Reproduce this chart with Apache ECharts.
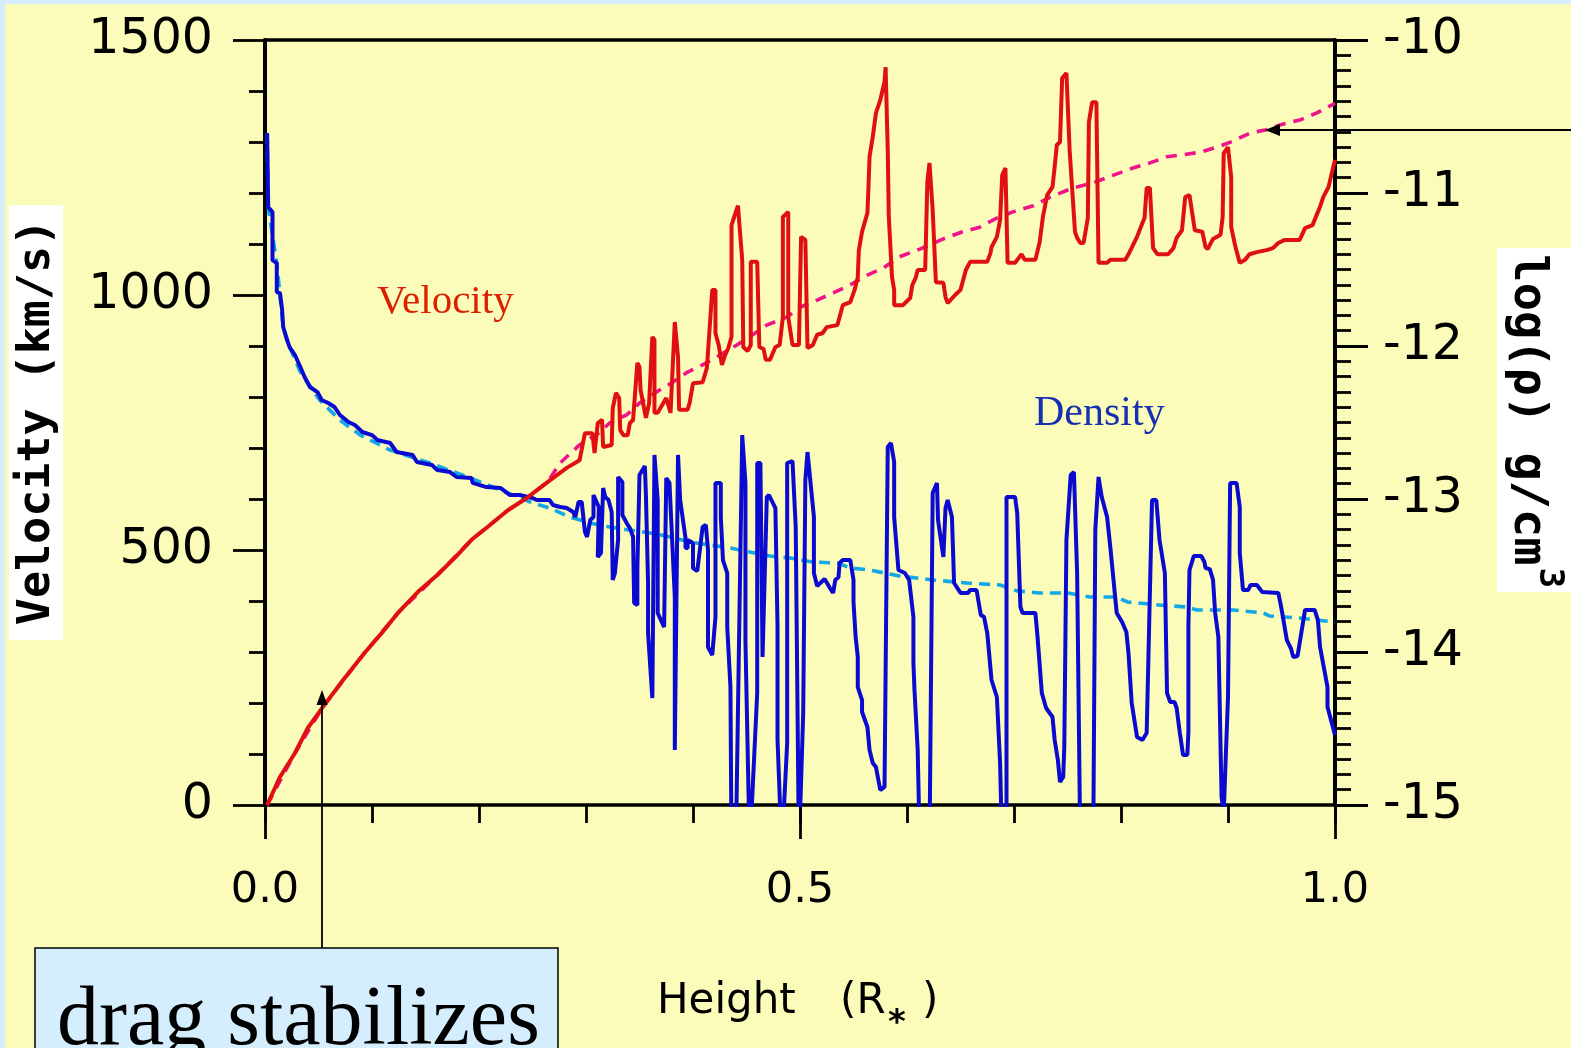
<!DOCTYPE html>
<html>
<head>
<meta charset="utf-8">
<script src="https://cdn.jsdelivr.net/npm/echarts@6/dist/echarts.min.js"></script>
<style>
html,body{margin:0;padding:0;background:#FCFCBA;}
#c{position:absolute;left:0;top:0;width:1571px;height:1048px;}
</style>
</head>
<body>
<div id="c"></div>
<script>
// ---- tick labels ----
const xTickLabels = ['0.0', '0.5', '1.0'];

// ---- Velocity (km/s) vs Height (R*) : solid red ----
const velocityData = [[0.002,0],[0.014,55],[0.028,102],[0.040,151],[0.054,192],[0.073,245],[0.093,298],[0.109,337],[0.124,376],[0.143,418],[0.161,451],[0.178,486],[0.193,520],[0.208,545],[0.227,578],[0.246,604],[0.264,633],[0.282,661],[0.294,676],[0.299,729],[0.306,729],[0.308,690],[0.311,749],[0.315,755],[0.316,702],[0.324,706],[0.325,778],[0.328,808],[0.331,798],[0.332,735],[0.335,725],[0.339,725],[0.341,749],[0.344,755],[0.348,867],[0.350,859],[0.351,814],[0.356,759],[0.359,788],[0.362,918],[0.364,912],[0.364,769],[0.367,769],[0.375,798],[0.379,769],[0.383,947],[0.386,878],[0.387,775],[0.395,775],[0.397,790],[0.400,827],[0.409,829],[0.413,857],[0.418,1010],[0.421,1010],[0.421,925],[0.424,902],[0.427,863],[0.428,863],[0.430,882],[0.433,896],[0.436,918],[0.436,1137],[0.442,1175],[0.446,1069],[0.447,898],[0.451,890],[0.454,902],[0.454,1065],[0.460,1065],[0.462,898],[0.466,894],[0.468,873],[0.472,873],[0.477,898],[0.481,902],[0.484,957],[0.484,1153],[0.489,1163],[0.489,957],[0.493,902],[0.499,902],[0.501,1114],[0.505,1108],[0.507,896],[0.512,902],[0.516,922],[0.521,925],[0.525,937],[0.535,941],[0.537,957],[0.540,980],[0.547,986],[0.551,1010],[0.554,1035],[0.555,1088],[0.558,1124],[0.563,1161],[0.564,1212],[0.565,1271],[0.568,1310],[0.571,1357],[0.575,1382],[0.579,1418],[0.580,1447],[0.582,1284],[0.583,1153],[0.586,1035],[0.588,1010],[0.588,980],[0.596,980],[0.603,994],[0.605,1020],[0.608,1033],[0.610,1049],[0.617,1049],[0.619,1222],[0.621,1259],[0.624,1167],[0.627,1025],[0.634,1024],[0.636,996],[0.638,984],[0.645,1000],[0.650,1010],[0.655,1049],[0.659,1065],[0.675,1065],[0.678,1082],[0.679,1094],[0.684,1114],[0.687,1147],[0.689,1235],[0.692,1249],[0.694,1063],[0.701,1063],[0.707,1080],[0.710,1069],[0.720,1069],[0.724,1104],[0.727,1153],[0.731,1196],[0.736,1212],[0.738,1251],[0.740,1294],[0.743,1300],[0.745,1425],[0.749,1435],[0.752,1284],[0.757,1124],[0.759,1112],[0.762,1102],[0.765,1102],[0.769,1151],[0.770,1339],[0.773,1378],[0.777,1378],[0.779,1063],[0.787,1063],[0.790,1069],[0.804,1069],[0.808,1084],[0.815,1114],[0.820,1141],[0.822,1151],[0.824,1210],[0.827,1210],[0.830,1092],[0.834,1080],[0.844,1080],[0.849,1092],[0.852,1112],[0.857,1127],[0.860,1192],[0.864,1196],[0.869,1127],[0.876,1124],[0.879,1094],[0.881,1090],[0.886,1110],[0.893,1118],[0.895,1153],[0.896,1278],[0.900,1290],[0.903,1231],[0.903,1133],[0.907,1094],[0.911,1063],[0.916,1069],[0.920,1080],[0.927,1084],[0.936,1088],[0.942,1092],[0.947,1102],[0.953,1108],[0.967,1108],[0.972,1131],[0.979,1137],[0.986,1173],[0.989,1192],[0.994,1212],[0.997,1239],[1.000,1265]];

// ---- mean velocity : dashed magenta ----
const velocityMeanData = [[0.002,0],[0.028,102],[0.054,192],[0.093,298],[0.124,376],[0.161,451],[0.193,520],[0.227,578],[0.246,604],[0.264,633],[0.276,671],[0.294,706],[0.313,731],[0.322,749],[0.338,765],[0.350,788],[0.366,810],[0.381,829],[0.395,849],[0.409,863],[0.425,882],[0.441,902],[0.453,918],[0.469,941],[0.488,957],[0.500,976],[0.516,990],[0.531,1004],[0.547,1020],[0.563,1039],[0.578,1053],[0.593,1075],[0.612,1090],[0.634,1110],[0.652,1124],[0.668,1133],[0.684,1151],[0.699,1163],[0.718,1175],[0.734,1192],[0.755,1210],[0.774,1220],[0.793,1235],[0.811,1249],[0.827,1259],[0.843,1271],[0.858,1275],[0.874,1280],[0.890,1290],[0.905,1302],[0.921,1318],[0.936,1324],[0.951,1335],[0.967,1343],[0.983,1357],[1.000,1376]];

// ---- log density (g/cm^3) : solid blue ----
const densityData = [[0.002,-10.608],[0.003,-11.092],[0.007,-11.124],[0.007,-11.438],[0.011,-11.458],[0.011,-11.647],[0.014,-11.654],[0.016,-11.765],[0.017,-11.876],[0.020,-11.948],[0.023,-12.007],[0.028,-12.059],[0.033,-12.137],[0.037,-12.203],[0.042,-12.268],[0.049,-12.301],[0.053,-12.353],[0.059,-12.373],[0.065,-12.399],[0.070,-12.451],[0.078,-12.497],[0.084,-12.516],[0.091,-12.562],[0.100,-12.582],[0.105,-12.614],[0.117,-12.634],[0.123,-12.693],[0.138,-12.712],[0.142,-12.758],[0.156,-12.778],[0.161,-12.810],[0.173,-12.824],[0.179,-12.856],[0.193,-12.863],[0.194,-12.895],[0.207,-12.922],[0.220,-12.928],[0.229,-12.974],[0.238,-12.974],[0.250,-12.993],[0.254,-13.007],[0.266,-13.007],[0.269,-13.039],[0.276,-13.052],[0.282,-13.059],[0.288,-13.085],[0.290,-13.118],[0.293,-13.020],[0.296,-13.020],[0.299,-13.216],[0.301,-13.248],[0.304,-13.137],[0.307,-13.118],[0.307,-12.974],[0.308,-12.974],[0.312,-13.052],[0.311,-13.379],[0.314,-13.353],[0.316,-12.928],[0.318,-12.987],[0.321,-13.007],[0.324,-13.085],[0.325,-13.529],[0.327,-13.484],[0.330,-13.268],[0.330,-12.856],[0.334,-12.889],[0.334,-13.105],[0.338,-13.157],[0.341,-13.190],[0.344,-13.248],[0.345,-13.680],[0.348,-13.693],[0.348,-13.451],[0.350,-12.843],[0.355,-12.784],[0.356,-12.974],[0.358,-13.549],[0.358,-13.876],[0.362,-14.301],[0.364,-12.712],[0.367,-13.007],[0.367,-13.745],[0.373,-13.837],[0.375,-12.863],[0.378,-12.895],[0.383,-13.641],[0.383,-14.641],[0.386,-12.712],[0.388,-13.007],[0.393,-13.255],[0.393,-13.320],[0.395,-13.320],[0.395,-13.268],[0.400,-13.288],[0.400,-13.451],[0.404,-13.471],[0.409,-13.183],[0.412,-13.170],[0.414,-13.333],[0.414,-13.967],[0.418,-14.020],[0.421,-13.771],[0.421,-12.895],[0.426,-12.895],[0.426,-13.118],[0.428,-13.399],[0.432,-13.484],[0.432,-13.837],[0.435,-14.229],[0.436,-15.3],[0.440,-15.3],[0.446,-12.582],[0.449,-12.895],[0.449,-13.922],[0.453,-15.3],[0.460,-14.268],[0.460,-12.765],[0.463,-12.765],[0.465,-14.033],[0.469,-12.987],[0.471,-12.974],[0.477,-13.059],[0.479,-13.837],[0.479,-14.575],[0.483,-15.3],[0.488,-14.595],[0.488,-12.765],[0.493,-12.752],[0.496,-13.183],[0.499,-15.3],[0.503,-14.399],[0.505,-12.876],[0.507,-12.693],[0.513,-13.118],[0.513,-13.484],[0.516,-13.569],[0.523,-13.523],[0.528,-13.582],[0.531,-13.614],[0.533,-13.529],[0.536,-13.510],[0.537,-13.418],[0.540,-13.399],[0.547,-13.399],[0.550,-13.529],[0.550,-13.673],[0.552,-13.902],[0.554,-14.033],[0.554,-14.229],[0.558,-14.314],[0.558,-14.392],[0.563,-14.490],[0.565,-14.641],[0.568,-14.725],[0.571,-14.752],[0.575,-14.902],[0.579,-14.882],[0.582,-12.660],[0.585,-12.634],[0.588,-12.758],[0.588,-13.118],[0.592,-13.464],[0.598,-13.484],[0.602,-13.529],[0.606,-13.771],[0.606,-14.072],[0.607,-14.248],[0.610,-14.641],[0.612,-15.3],[0.621,-15.3],[0.624,-12.961],[0.628,-12.895],[0.629,-13.137],[0.634,-13.379],[0.636,-13.059],[0.638,-13.007],[0.642,-13.118],[0.644,-13.549],[0.650,-13.614],[0.657,-13.614],[0.659,-13.595],[0.665,-13.595],[0.669,-13.758],[0.672,-13.771],[0.675,-13.876],[0.679,-14.183],[0.684,-14.294],[0.687,-14.725],[0.689,-15.3],[0.693,-15.3],[0.693,-12.987],[0.701,-12.987],[0.703,-13.092],[0.706,-13.706],[0.708,-13.745],[0.720,-13.745],[0.722,-13.902],[0.726,-14.268],[0.730,-14.366],[0.736,-14.425],[0.738,-14.575],[0.741,-14.706],[0.743,-14.850],[0.746,-14.817],[0.747,-14.621],[0.749,-13.268],[0.753,-12.843],[0.756,-12.824],[0.759,-13.484],[0.762,-15.3],[0.774,-15.3],[0.776,-13.203],[0.779,-12.856],[0.782,-12.987],[0.787,-13.118],[0.790,-13.314],[0.793,-13.529],[0.796,-13.745],[0.801,-13.804],[0.805,-13.869],[0.807,-14.007],[0.810,-14.333],[0.815,-14.556],[0.820,-14.575],[0.824,-14.529],[0.829,-13.007],[0.833,-13.007],[0.836,-13.268],[0.841,-13.484],[0.843,-14.268],[0.846,-14.327],[0.850,-14.327],[0.852,-14.366],[0.855,-14.529],[0.858,-14.673],[0.862,-14.673],[0.863,-14.523],[0.863,-13.837],[0.864,-13.464],[0.868,-13.373],[0.875,-13.373],[0.878,-13.412],[0.879,-13.451],[0.883,-13.458],[0.886,-13.529],[0.888,-13.745],[0.891,-13.902],[0.894,-14.948],[0.896,-15.05],[0.900,-14.294],[0.902,-12.895],[0.908,-12.895],[0.911,-13.052],[0.911,-13.353],[0.914,-13.595],[0.919,-13.595],[0.921,-13.562],[0.927,-13.562],[0.932,-13.608],[0.947,-13.614],[0.949,-13.680],[0.951,-13.758],[0.955,-13.922],[0.959,-13.980],[0.961,-14.033],[0.965,-14.026],[0.972,-13.725],[0.981,-13.725],[0.984,-13.791],[0.986,-13.967],[0.993,-14.229],[0.993,-14.359],[1.000,-14.542]];

// ---- mean log density : dashed cyan ----
const densityMeanData = [[0.002,-10.608],[0.003,-11.092],[0.011,-11.458],[0.017,-11.876],[0.023,-12.007],[0.033,-12.170],[0.051,-12.353],[0.070,-12.484],[0.089,-12.582],[0.117,-12.680],[0.154,-12.765],[0.192,-12.863],[0.220,-12.941],[0.248,-13.020],[0.266,-13.059],[0.285,-13.118],[0.304,-13.157],[0.322,-13.183],[0.341,-13.203],[0.360,-13.222],[0.379,-13.248],[0.397,-13.281],[0.416,-13.301],[0.435,-13.320],[0.453,-13.346],[0.472,-13.373],[0.491,-13.386],[0.512,-13.412],[0.535,-13.418],[0.547,-13.451],[0.565,-13.464],[0.593,-13.503],[0.624,-13.529],[0.656,-13.549],[0.687,-13.562],[0.703,-13.601],[0.724,-13.614],[0.750,-13.614],[0.771,-13.641],[0.796,-13.641],[0.806,-13.673],[0.836,-13.693],[0.862,-13.706],[0.871,-13.725],[0.905,-13.725],[0.933,-13.745],[0.939,-13.765],[0.967,-13.778],[1.000,-13.804]];

const chart = echarts.init(document.getElementById('c'), null, {renderer: 'canvas', width: 1571, height: 1048});

const axisColor = '#000';
const tickFont = 'DejaVu Sans';

const option = {
  backgroundColor: '#FCFCBA',
  animation: false,
  grid: {left: 265, right: 236, top: 40, bottom: 243, show: false},
  xAxis: [
    {
      type: 'value', min: 0, max: 1, interval: 0.1, position: 'bottom',
      axisLine: {show: true, onZero: false, lineStyle: {color: axisColor, width: 3.5}},
      axisTick: {show: true, length: 18, lineStyle: {color: axisColor, width: 2.8}},
      axisLabel: {show: false},
      splitLine: {show: false}
    },
    {
      type: 'value', min: 0, max: 1, interval: 0.5, position: 'bottom',
      axisLine: {show: false, onZero: false},
      axisTick: {show: true, length: 34, lineStyle: {color: axisColor, width: 2.8}},
      axisLabel: {
        show: true, margin: 64, fontSize: 43, fontFamily: tickFont, color: '#000', lineHeight: 43,
        formatter: function (v) { return xTickLabels[Math.round(v / 0.5)]; }
      },
      splitLine: {show: false}
    },
    {
      type: 'value', min: 0, max: 1, position: 'top',
      axisLine: {show: true, onZero: false, lineStyle: {color: axisColor, width: 3.5}},
      axisTick: {show: false}, axisLabel: {show: false}, splitLine: {show: false}
    }
  ],
  yAxis: [
    {
      type: 'value', min: 0, max: 1500, interval: 500, position: 'left',
      axisLine: {show: true, onZero: false, lineStyle: {color: axisColor, width: 4}},
      axisTick: {show: true, length: 32, lineStyle: {color: axisColor, width: 2.8}},
      minorTick: {show: true, splitNumber: 5, length: 16, lineStyle: {color: axisColor, width: 2.8}},
      axisLabel: {show: true, margin: 52, fontSize: 49, fontFamily: tickFont, color: '#000',
        formatter: function (v) { return String(v); }},
      splitLine: {show: false}, minorSplitLine: {show: false}
    },
    {
      type: 'value', min: -15, max: -10, interval: 1, position: 'right',
      axisLine: {show: true, onZero: false, lineStyle: {color: axisColor, width: 4}},
      axisTick: {show: true, length: 33, lineStyle: {color: axisColor, width: 2.8}},
      minorTick: {show: true, splitNumber: 10, length: 16, lineStyle: {color: axisColor, width: 2.8}},
      axisLabel: {show: true, margin: 48, fontSize: 49, fontFamily: tickFont, color: '#000',
        formatter: function (v) { return String(v); }},
      splitLine: {show: false}, minorSplitLine: {show: false}
    }
  ],
  series: [
    {
      name: 'Density mean', type: 'line', xAxisIndex: 0, yAxisIndex: 1,
      data: densityMeanData, symbol: 'none', clip: true,
      lineStyle: {color: '#12A8E6', width: 3.6, type: [11, 7]}, z: 2
    },
    {
      name: 'Velocity mean', type: 'line', xAxisIndex: 0, yAxisIndex: 0,
      data: velocityMeanData, symbol: 'none', clip: true,
      lineStyle: {color: '#F0148C', width: 3.6, type: [11, 8]}, z: 2
    },
    {
      name: 'Density', type: 'line', xAxisIndex: 0, yAxisIndex: 1,
      data: densityData, symbol: 'none', clip: true,
      lineStyle: {color: '#0A0AD0', width: 4}, z: 3
    },
    {
      name: 'Velocity', type: 'line', xAxisIndex: 0, yAxisIndex: 0,
      data: velocityData, symbol: 'none', clip: true,
      lineStyle: {color: '#E01010', width: 4}, z: 4
    }
  ],
  graphic: [
    // light-blue frame strips
    {type: 'rect', shape: {x: 0, y: 0, width: 1571, height: 4}, style: {fill: '#D4EEFE'}, z: 1, silent: true},
    {type: 'rect', shape: {x: 0, y: 0, width: 5, height: 1048}, style: {fill: '#D4EEFE'}, z: 1, silent: true},
    // left axis title
    {type: 'rect', shape: {x: 9, y: 205, width: 54, height: 435}, style: {fill: '#FFFFFF'}, z: 5, silent: true},
    {type: 'text', x: 37, y: 422, rotation: Math.PI / 2, z: 6, silent: true,
      style: {text: 'Velocity (km/s)', x: 0, y: 0, fill: '#000', fontSize: 45, fontFamily: 'DejaVu Sans Mono', fontWeight: 'bold',
        align: 'center', verticalAlign: 'middle', textAlign: 'center', textVerticalAlign: 'middle'}},
    // right axis title
    {type: 'rect', shape: {x: 1497, y: 248, width: 74, height: 344}, style: {fill: '#FFFFFF'}, z: 5, silent: true},
    {type: 'text', x: 1527, y: 410, rotation: -Math.PI / 2, z: 6, silent: true,
      style: {text: 'log(ρ) g/cm', x: 0, y: 0, fill: '#000', fontSize: 47, fontFamily: 'DejaVu Sans Mono', fontWeight: 'bold',
        align: 'center', verticalAlign: 'middle', textAlign: 'center', textVerticalAlign: 'middle'}},
    {type: 'text', x: 1549, y: 578, rotation: -Math.PI / 2, z: 6, silent: true,
      style: {text: '3', x: 0, y: 0, fill: '#000', fontSize: 34, fontFamily: 'DejaVu Sans Mono', fontWeight: 'bold',
        align: 'center', verticalAlign: 'middle', textAlign: 'center', textVerticalAlign: 'middle'}},
    // x axis title
    {type: 'text', x: 657, y: 1002, z: 6, silent: true,
      style: {text: 'Height', fill: '#000', fontSize: 42, fontFamily: tickFont,
        align: 'left', verticalAlign: 'middle', textAlign: 'left', textVerticalAlign: 'middle'}},
    {type: 'text', x: 840, y: 1002, z: 6, silent: true,
      style: {text: '(R', fill: '#000', fontSize: 42, fontFamily: tickFont,
        align: 'left', verticalAlign: 'middle', textAlign: 'left', textVerticalAlign: 'middle'}},
    {type: 'text', x: 897, y: 1024, z: 6, silent: true,
      style: {text: '*', fill: '#000', fontSize: 34, fontFamily: tickFont, fontWeight: 'bold',
        align: 'center', verticalAlign: 'middle', textAlign: 'center', textVerticalAlign: 'middle'}},
    {type: 'text', x: 922, y: 1002, z: 6, silent: true,
      style: {text: ')', fill: '#000', fontSize: 42, fontFamily: tickFont,
        align: 'left', verticalAlign: 'middle', textAlign: 'left', textVerticalAlign: 'middle'}},
    // in-plot labels
    {type: 'text', x: 377, y: 302, z: 6, silent: true,
      style: {text: 'Velocity', fill: '#DC2000', fontSize: 41, fontFamily: 'Liberation Serif',
        align: 'left', verticalAlign: 'middle', textAlign: 'left', textVerticalAlign: 'middle'}},
    {type: 'text', x: 1034, y: 414, z: 6, silent: true,
      style: {text: 'Density', fill: '#1530B0', fontSize: 42, fontFamily: 'Liberation Serif',
        align: 'left', verticalAlign: 'middle', textAlign: 'left', textVerticalAlign: 'middle'}},
    // annotation arrow (vertical)
    {type: 'line', shape: {x1: 322, y1: 948, x2: 322, y2: 700}, style: {stroke: '#000', lineWidth: 1.8}, z: 7, silent: true},
    {type: 'polygon', shape: {points: [[322, 690], [316.5, 705], [327.5, 705]]}, style: {fill: '#000'}, z: 7, silent: true},
    // annotation box
    {type: 'rect', shape: {x: 35, y: 948, width: 523, height: 120}, style: {fill: '#D4EEFE', stroke: '#000', lineWidth: 1.5}, z: 7, silent: true},
    {type: 'text', x: 57, y: 1064, z: 8, silent: true,
      style: {text: 'drag stabilizes', fill: '#000', fontSize: 84, fontFamily: 'Liberation Serif',
        align: 'left', verticalAlign: 'bottom', textAlign: 'left', textVerticalAlign: 'bottom'}},
    // arrow at right pointing to the density-scale curve
    {type: 'line', shape: {x1: 1278, y1: 130, x2: 1571, y2: 130}, style: {stroke: '#000', lineWidth: 2.2}, z: 7, silent: true},
    {type: 'polygon', shape: {points: [[1265, 130], [1280, 124], [1280, 136]]}, style: {fill: '#000'}, z: 7, silent: true}
  ]
};
chart.setOption(option);
</script>
</body>
</html>
